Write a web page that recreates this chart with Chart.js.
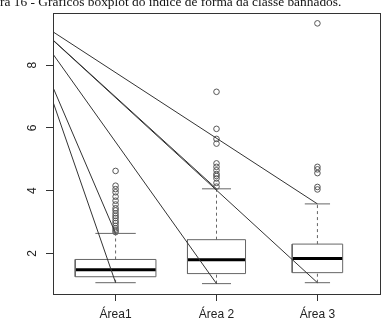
<!DOCTYPE html>
<html>
<head>
<meta charset="utf-8">
<script src="https://cdn.jsdelivr.net/npm/chart.js@4"></script>
<style>
  html, body { margin: 0; padding: 0; background: #fff; }
  #wrap { width: 386px; height: 328px; }
</style>
</head>
<body>
<div id="wrap"><canvas id="chart" width="386" height="328"></canvas></div>
<script>
// dados
const categories = ['Área1', 'Área 2', 'Área 3'];
const lowerWhisker = [1.07, 1.04, 1.07];
const q1 = [1.26, 1.36, 1.39];
const median = [1.48, 1.80, 1.84];
const q3 = [1.81, 2.44, 2.30];
const upperWhisker = [2.64, 4.06, 3.58];
const outliersArea1 = [4.63, 4.16, 4.05, 3.95, 3.81, 3.68, 3.56, 3.44, 3.37, 3.28, 3.20, 3.13, 3.04, 2.97, 2.88, 2.80, 2.74, 2.68];
const outliersArea2 = [7.15, 5.97, 5.65, 5.50, 4.87, 4.76, 4.65, 4.53, 4.47, 4.39, 4.25, 4.13];
const outliersArea3 = [9.33, 4.76, 4.68, 4.56, 4.12, 4.04];
const yTicks = [2, 4, 6, 8];

// linhas de chamada (saem da borda esquerda)
const leaderStart = [9.06, 8.80, 8.79, 8.35, 7.29, 6.83];
const leaderGroup = [3, 2, 3, 2, 1, 1];
const leaderEnd = ['upper', 'upper', 'lower', 'lower', 'upper', 'lower'];

const caption = 'ra 16 - Gráficos boxplot do índice de forma da classe banhados.';

// estilo
const boxWidths = [0.8, 0.575, 0.5];
const xMin = 0.38, xMax = 3.62;
const yMin = 0.71, yMax = 9.66;
const boxColor = '#666';
const lineColor = '#333';

let datasets = [];

// linhas de chamada
leaderStart.forEach((y0, i) => {
    let g = leaderGroup[i];
    let yEnd = leaderEnd[i] === 'upper' ? upperWhisker[g - 1] : lowerWhisker[g - 1];
    datasets.push({
        data: [{x: xMin, y: y0}, {x: g, y: yEnd}],
        showLine: true, borderColor: lineColor, borderWidth: 1, pointRadius: 0
    });
});

// caixas
categories.forEach((c, i) => {
    let x = i + 1;
    let h = boxWidths[i] / 2;
    let s = boxWidths[i] / 4;
    datasets.push({
        data: [{x: x - h, y: q1[i]}, {x: x + h, y: q1[i]}, {x: x + h, y: q3[i]}, {x: x - h, y: q3[i]}, {x: x - h, y: q1[i]}],
        showLine: true, borderColor: boxColor, borderWidth: 1, pointRadius: 0
    });
    datasets.push({
        data: [{x: x - h, y: median[i]}, {x: x + h, y: median[i]}],
        showLine: true, borderColor: '#000', borderWidth: 3, pointRadius: 0
    });
    datasets.push({
        data: [{x: x, y: q3[i]}, {x: x, y: upperWhisker[i]}],
        showLine: true, borderColor: boxColor, borderWidth: 1, borderDash: [3, 3], pointRadius: 0
    });
    datasets.push({
        data: [{x: x, y: lowerWhisker[i]}, {x: x, y: q1[i]}],
        showLine: true, borderColor: boxColor, borderWidth: 1, borderDash: [3, 3], pointRadius: 0
    });
    datasets.push({
        data: [{x: x - s, y: upperWhisker[i]}, {x: x + s, y: upperWhisker[i]}],
        showLine: true, borderColor: boxColor, borderWidth: 1, pointRadius: 0
    });
    datasets.push({
        data: [{x: x - s, y: lowerWhisker[i]}, {x: x + s, y: lowerWhisker[i]}],
        showLine: true, borderColor: boxColor, borderWidth: 1, pointRadius: 0
    });
});

// outliers
[outliersArea1, outliersArea2, outliersArea3].forEach((arr, i) => {
    datasets.push({
        data: arr.map(v => ({x: i + 1, y: v})),
        showLine: false, pointStyle: 'circle', pointRadius: 2.8,
        pointBackgroundColor: 'rgba(0,0,0,0)', pointBorderColor: '#555', pointBorderWidth: 1
    });
});

const framePlugin = {
    id: 'frame',
    afterDraw(chart) {
        const ctx = chart.ctx;
        const a = chart.chartArea;
        ctx.save();
        ctx.strokeStyle = lineColor;
        ctx.lineWidth = 1;
        ctx.strokeRect(Math.round(a.left) + 0.5, Math.round(a.top) + 0.5,
            Math.round(a.right - a.left), Math.round(a.bottom - a.top));
        // rotulos do eixo y, girados como no R
        const ys = chart.scales.y;
        ctx.fillStyle = '#222';
        ctx.font = '12px "Liberation Sans", Arial, sans-serif';
        ctx.textAlign = 'center';
        ctx.textBaseline = 'middle';
        ys.ticks.forEach(t => {
            ctx.save();
            ctx.translate(a.left - 20, ys.getPixelForValue(t.value));
            ctx.rotate(-Math.PI / 2);
            ctx.fillText(String(t.value), 0, 0);
            ctx.restore();
        });
        ctx.restore();
    }
};

new Chart(document.getElementById('chart'), {
    type: 'scatter',
    data: { datasets: datasets },
    options: {
        responsive: false,
        animation: false,
        devicePixelRatio: 1,
        layout: { padding: { left: 0, right: 6, top: 0, bottom: 0 } },
        plugins: {
            legend: { display: false },
            tooltip: { enabled: false },
            title: {
                display: true,
                text: caption,
                align: 'start',
                color: '#111',
                font: { family: '"Liberation Serif", "Times New Roman", serif', size: 13.4, weight: 'normal', lineHeight: 1 },
                padding: { top: -4, bottom: 3.6 }
            }
        },
        scales: {
            x: {
                type: 'linear',
                min: xMin, max: xMax,
                afterBuildTicks: s => { s.ticks = categories.map((c, i) => ({ value: i + 1 })); },
                afterFit: s => { s.height = 34; },
                border: { display: false },
                grid: { drawOnChartArea: false, drawTicks: true, tickLength: 7, color: lineColor },
                ticks: {
                    autoSkip: false, maxRotation: 0, padding: 6, color: '#222',
                    font: { family: '"Liberation Sans", Arial, sans-serif', size: 12 },
                    callback: (v, i) => categories[i]
                }
            },
            y: {
                type: 'linear',
                min: yMin, max: yMax,
                afterBuildTicks: s => { s.ticks = yTicks.map(v => ({ value: v })); },
                afterFit: s => { s.width = 53; },
                border: { display: false },
                grid: { drawOnChartArea: false, drawTicks: true, tickLength: 7, color: lineColor },
                ticks: { display: false }
            }
        }
    },
    plugins: [framePlugin]
});
</script>
</body>
</html>
